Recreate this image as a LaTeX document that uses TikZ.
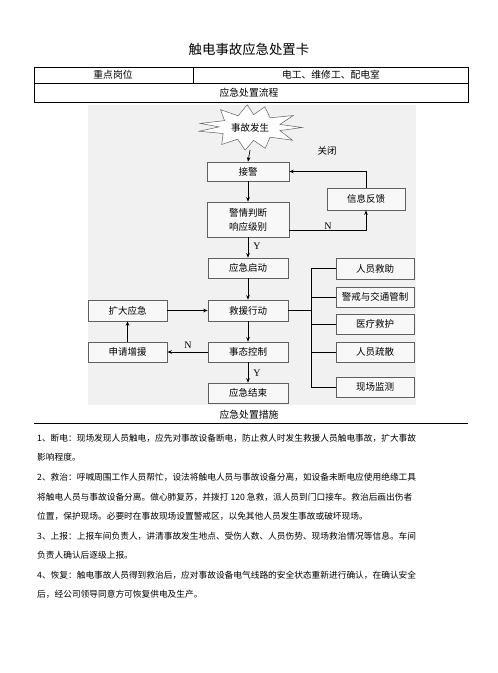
\documentclass[tikz,border=0pt]{standalone}
\usepackage{fontspec}
\setmainfont{Noto Sans CJK SC}
\newfontfamily\latinserif{Liberation Serif}
\usetikzlibrary{arrows.meta,calc}
\definecolor{bggray}{HTML}{F1F1F1}
\definecolor{boxfill}{HTML}{F8F8F8}
\definecolor{boxline}{HTML}{606060}
\tikzset{
  flowbox/.style={draw=boxline,fill=boxfill,line width=0.6pt,inner sep=0pt,
    font=\fontsize{9.5}{12}\selectfont,align=center},
  arr/.style={-{Stealth[length=4.5pt,width=3.6pt]},line width=0.7pt},
  plain/.style={line width=0.7pt},
  tabline/.style={line width=0.9pt},
  burst/.style={draw=boxline,fill=white,line width=0.5pt,line join=miter},
  lbl/.style={font=\latinserif\fontsize{10}{12}\selectfont,inner sep=0pt},
  bodytext/.style={anchor=west,inner sep=0pt,font=\fontsize{8.7}{11}\selectfont},
  celltext/.style={inner sep=0pt,font=\fontsize{9.8}{12}\selectfont}
}
\begin{document}
\begin{tikzpicture}[x=1pt,y=-1pt]
\useasboundingbox (0,0) rectangle (498,673);
% title
\node[inner sep=0pt,font=\fontsize{13.4}{16}\selectfont] (title) at (249,49) {触电事故应急处置卡};
% table
\draw[tabline] (34,67) rectangle (468,102);
\draw[tabline] (34,83) -- (468,83);
\draw[tabline] (193,67) -- (193,83);
\node[celltext] (c1) at (113,75) {重点岗位};
\node[celltext] (c2) at (331,75) {电工、维修工、配电室};
\node[celltext] (c3) at (249,93) {应急处置流程};
% background
\fill[bggray] (88,105) rectangle (416,405);
% start (starburst)
\begin{scope}[shift={(250,127.5)}]
\draw[burst] (0:52 and 20) -- (15:31 and 12) -- (32:50 and 24) -- (48:30 and 13)
  -- (65:36 and 23) -- (82:26 and 13) -- (100:28 and 23) -- (116:28 and 13)
  -- (135:40 and 24) -- (150:31 and 12) -- (168:52 and 18) -- (183:31 and 12)
  -- (197:52 and 14) -- (212:30 and 13) -- (228:44 and 24) -- (244:27 and 13)
  -- (262:20 and 23) -- (278:26 and 13) -- (296:34 and 23) -- (312:30 and 13)
  -- (330:50 and 24) -- (345:31 and 12) -- cycle;
\end{scope}
\node[inner sep=0pt,font=\fontsize{9.5}{12}\selectfont] (start) at (250,127.5) {事故发生};
\coordinate (startbot) at (250,150);
\node[inner sep=0pt,font=\fontsize{9.5}{12}\selectfont] (close) at (327,151) {关闭};
% main column
\node[flowbox,minimum width=82pt,minimum height=19pt] (jj) at (248,171.5) {接警};
\node[flowbox,minimum width=82pt,minimum height=35pt] (jqpd) at (248,219.5) {警情判断\\[2pt]响应级别};
\node[flowbox,minimum width=80pt,minimum height=20pt] (yjqd) at (248,268) {应急启动};
\node[flowbox,minimum width=80pt,minimum height=21pt] (jyxd) at (248,310.5) {救援行动};
\node[flowbox,minimum width=80pt,minimum height=20pt] (stkz) at (248,352) {事态控制};
\node[flowbox,minimum width=80pt,minimum height=20pt] (yjjs) at (248,393) {应急结束};
% feedback
\node[flowbox,minimum width=78pt,minimum height=22pt] (xxfk) at (366,199) {信息反馈};
% left column
\node[flowbox,minimum width=79pt,minimum height=21pt] (kdyj) at (127.5,310.5) {扩大应急};
\node[flowbox,minimum width=79pt,minimum height=20pt] (sqzy) at (127.5,352) {申请增援};
% right column
\node[flowbox,minimum width=78pt,minimum height=21pt] (r1) at (375,268.5) {人员救助};
\node[flowbox,minimum width=78pt,minimum height=20pt] (r2) at (375,297) {警戒与交通管制};
\node[flowbox,minimum width=78pt,minimum height=20pt] (r3) at (375,324) {医疗救护};
\node[flowbox,minimum width=78pt,minimum height=20pt] (r4) at (375,352) {人员疏散};
\node[flowbox,minimum width=78pt,minimum height=20pt] (r5) at (375,387) {现场监测};
\coordinate (bus) at (311,310.5);
% connectors
\draw[arr] (startbot) -- (jj.north);
\draw[arr] (jj) -- (jqpd);
\draw[arr] (jqpd) -- (yjqd);
\node[lbl] (ylab1) at (257,246) {Y};
\draw[arr] (yjqd) -- (jyxd);
\draw[arr] (jyxd) -- (stkz);
\draw[arr] (stkz) -- (yjjs);
\node[lbl] (ylab2) at (257,373) {Y};
\draw[arr] (stkz) -- (sqzy);
\node[lbl] (nlab1) at (188,345) {N};
\draw[arr] (sqzy) -- (kdyj);
\draw[arr] (kdyj) -- (jyxd);
\draw[arr] ($(jqpd.east)+(0,10.5)$) -| (xxfk.south);
\node[lbl] (nlab2) at (328,226) {N};
\draw[arr] (xxfk.north) |- (jj.east);
% bus to measures
\draw[plain] (jyxd.east) -- (bus);
\draw[plain] (bus |- r1.west) -- (bus |- r5.west);
\foreach \r in {r1,r2,r3,r4,r5}{\draw[plain] (bus |- \r.west) -- (\r.west);}
% measures
\node[celltext] (c4) at (249,415) {应急处置措施};
\draw[tabline] (34,423) -- (468,423);
\node[bodytext] (t1) at (37,438) {1、断电：现场发现人员触电，应先对事故设备断电，防止救人时发生救援人员触电事故，扩大事故};
\node[bodytext] (t2) at (37,457) {影响程度。};
\node[bodytext] (t3) at (37,477) {2、救治：呼喊周围工作人员帮忙，设法将触电人员与事故设备分离，如设备未断电应使用绝缘工具};
\node[bodytext] (t4) at (37,497) {将触电人员与事故设备分离。做心肺复苏，并拨打 120 急救，派人员到门口接车。救治后画出伤者};
\node[bodytext] (t5) at (37,516) {位置，保护现场。必要时在事故现场设置警戒区，以免其他人员发生事故或破坏现场。};
\node[bodytext] (t6) at (37,536) {3、上报：上报车间负责人，讲清事故发生地点、受伤人数、人员伤势、现场救治情况等信息。车间};
\node[bodytext] (t7) at (37,555) {负责人确认后逐级上报。};
\node[bodytext] (t8) at (37,575) {4、恢复：触电事故人员得到救治后，应对事故设备电气线路的安全状态重新进行确认，在确认安全};
\node[bodytext] (t9) at (37,594) {后，经公司领导同意方可恢复供电及生产。};
\end{tikzpicture}
\end{document}
